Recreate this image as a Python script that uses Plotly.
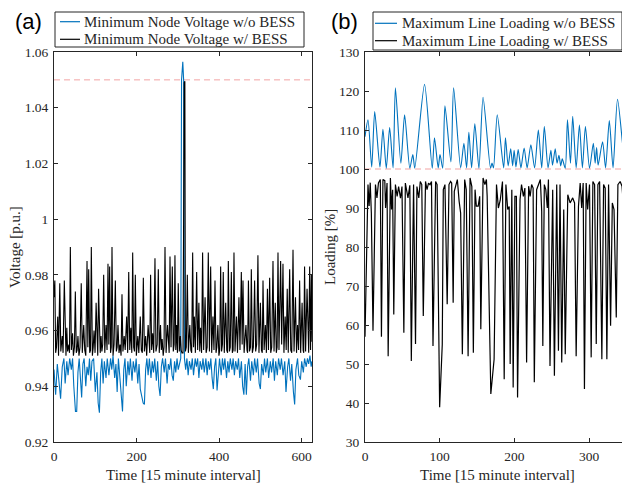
import plotly.graph_objects as go

# ---------------- Panel (a): minimum node voltage ----------------
time_a_blue = [0, 4, 8, 12, 16, 20, 24, 27, 31, 34, 38, 42, 45, 48, 52, 55, 58, 61, 64, 67,
               70, 73, 77, 80, 83, 86, 89, 92, 96, 100, 104, 107, 110, 113, 116, 119, 122, 126, 129, 133,
               137, 140, 143, 147, 150, 153, 156, 160, 163, 166, 169, 172, 175, 179, 182, 185, 189, 192, 196, 199,
               203, 206, 209, 213, 216, 219, 222, 225, 228, 231, 235, 238, 241, 244, 248, 251, 254, 257, 260, 263,
               267, 270, 274, 277, 280, 283, 286, 289, 292, 295, 298, 301, 304, 307, 309, 312, 314, 316, 319, 322,
               325, 328, 332, 335, 338, 342, 345, 348, 351, 354, 358, 361, 364, 368, 371, 374, 377, 380, 383, 386,
               389, 392, 395, 398, 401, 405, 408, 411, 414, 418, 421, 424, 427, 431, 434, 437, 440, 444, 447, 450,
               454, 457, 460, 463, 466, 469, 472, 476, 479, 483, 486, 490, 493, 497, 500, 503, 507, 510, 513, 517,
               520, 524, 527, 531, 534, 537, 541, 544, 548, 551, 555, 559, 562, 566, 569, 573, 576, 580, 583, 586,
               590, 593, 597, 600, 604, 607, 611, 614, 617, 620, 623, 625]
volt_a_blue = [0.946, 0.937, 0.948, 0.942, 0.9355, 0.947, 0.950, 0.941, 0.949, 0.944, 0.950, 0.946, 0.950, 0.940, 0.931, 0.931, 0.945, 0.950, 0.940, 0.936,
               0.948, 0.950, 0.940, 0.947, 0.944, 0.950, 0.942, 0.949, 0.950, 0.938, 0.945, 0.934, 0.9305, 0.945, 0.950, 0.941, 0.949, 0.943, 0.950, 0.944,
               0.950, 0.946, 0.951, 0.943, 0.948, 0.938, 0.950, 0.941, 0.934, 0.931, 0.946, 0.950, 0.940, 0.949, 0.944, 0.950, 0.942, 0.949, 0.945, 0.950,
               0.941, 0.948, 0.939, 0.936, 0.934, 0.9335, 0.946, 0.950, 0.944, 0.950, 0.943, 0.949, 0.945, 0.950, 0.942, 0.949, 0.940, 0.9365, 0.947, 0.950,
               0.945, 0.950, 0.941, 0.948, 0.946, 0.950, 0.944, 0.942, 0.949, 0.945, 0.950, 0.946, 0.948, 0.950, 1.050, 1.0565, 1.050, 0.950, 0.946, 0.950,
               0.944, 0.949, 0.946, 0.950, 0.944, 0.950, 0.947, 0.950, 0.943, 0.949, 0.946, 0.950, 0.945, 0.950, 0.944, 0.949, 0.946, 0.950, 0.943, 0.939,
               0.947, 0.950, 0.9385, 0.946, 0.950, 0.944, 0.950, 0.946, 0.950, 0.943, 0.949, 0.945, 0.950, 0.946, 0.950, 0.944, 0.949, 0.946, 0.950, 0.943,
               0.949, 0.940, 0.937, 0.948, 0.937, 0.947, 0.950, 0.942, 0.949, 0.944, 0.950, 0.945, 0.950, 0.941, 0.939, 0.948, 0.944, 0.950, 0.945, 0.950,
               0.943, 0.949, 0.945, 0.950, 0.942, 0.949, 0.944, 0.950, 0.946, 0.950, 0.944, 0.949, 0.938, 0.947, 0.950, 0.942, 0.948, 0.938, 0.9335, 0.946,
               0.950, 0.944, 0.9424, 0.949, 0.945, 0.950, 0.947, 0.950, 0.948, 0.951, 0.947, 0.949]

time_a_black = [0, 2, 4, 6, 9, 11, 14, 16.5, 18, 20, 22, 25, 27.5, 29, 31, 33, 36, 37.5, 39.6, 42,
                45, 47, 49.5, 51.7, 54, 56, 58, 60.5, 63, 66, 68.5, 72, 74.5, 77, 80, 82, 84, 86.5, 88.5, 90.4,
                93, 95, 97, 99.5, 102, 104.5, 106, 108, 110.5, 112, 114, 116, 118, 120.3, 123, 126, 128.5, 130.8, 132.8, 134.8,
                137, 138.7, 140.5, 143, 145.5, 148.6, 151, 153, 155, 157.5, 160, 162.5, 164.7, 167, 170, 172.5, 176, 178.5, 181, 183.5,
                186, 188.5, 190.6, 193, 195, 197, 199.5, 201, 203, 205.5, 209, 211.5, 214, 216.4, 219, 222, 224.5, 228, 230.5, 232,
                234, 236.5, 239, 241.5, 244.6, 247, 250, 252.7, 255, 258, 260, 262, 264.5, 266.5, 268.9, 271.5, 275, 277.5, 279, 281,
                283.5, 286.6, 289, 291, 293, 295, 297, 299, 301, 303.5, 306, 308, 310, 312.5, 314, 315.5, 317, 318.3, 320.5, 323,
                325.5, 329, 331.5, 333.5, 335.9, 338, 340, 342.5, 345.6, 348, 351, 353, 355, 357.5, 360, 362.5, 366, 368.5, 371, 373.8,
                376.5, 379.5, 382, 385, 387.5, 390, 392.5, 394.5, 397, 399.5, 401.5, 403.7, 406, 408, 410, 412.5, 416, 418.5, 420.5, 422.3,
                425, 427, 429.6, 432, 434, 436, 438.5, 442, 444.5, 448, 450.5, 453.8, 455.8, 457.8, 460.5, 465, 467.5, 469, 471, 473.5,
                476, 478, 480.5, 483, 486, 488.5, 491, 494, 496.5, 500, 502.5, 504.5, 506.3, 509, 512, 514.5, 517, 519.5, 522.4, 525,
                527.5, 530.5, 533, 536, 538.5, 540.5, 542.6, 545, 549, 551.5, 554.7, 557, 560, 562.5, 565, 567.5, 570.9, 573.5, 576, 579,
                581.5, 585, 587.5, 590, 592.5, 595, 597.5, 601, 603.5, 605, 607, 609.5, 613, 615.5, 617, 619.3, 621.5, 623.5, 625]
volt_a_black = [0.972, 0.978, 0.952, 0.954, 0.965, 0.951, 0.977, 0.9525, 0.955, 0.958, 0.952, 0.978, 0.953, 0.951, 0.961, 0.9525, 0.955, 0.952, 0.990, 0.953,
                0.959, 0.951, 0.954, 0.974, 0.952, 0.953, 0.958, 0.951, 0.954, 0.977, 0.952, 0.962, 0.953, 0.951, 0.985, 0.954, 0.982, 0.952, 0.953, 0.990,
                0.951, 0.954, 0.960, 0.952, 0.970, 0.9525, 0.951, 0.975, 0.953, 0.952, 0.958, 0.9525, 0.955, 0.980, 0.952, 0.962, 0.953, 0.984, 0.955, 0.983,
                0.952, 0.954, 0.990, 0.951, 0.955, 0.978, 0.9525, 0.954, 0.962, 0.952, 0.955, 0.951, 0.973, 0.9525, 0.958, 0.953, 0.965, 0.952, 0.981, 0.953,
                0.961, 0.952, 0.988, 0.954, 0.9525, 0.980, 0.951, 0.954, 0.958, 0.952, 0.965, 0.953, 0.952, 0.979, 0.9525, 0.958, 0.951, 0.962, 0.953, 0.952,
                0.980, 0.953, 0.959, 0.952, 0.986, 0.9525, 0.955, 0.982, 0.952, 0.962, 0.953, 0.957, 0.951, 0.954, 0.990, 0.952, 0.962, 0.953, 0.952, 0.9866,
                0.954, 0.983, 0.9525, 0.955, 0.987, 0.953, 0.962, 0.952, 0.977, 0.9525, 0.958, 0.953, 0.952, 0.952, 1.047, 1.049, 1.0495, 0.9525, 0.954, 0.980,
                0.952, 0.962, 0.953, 0.952, 0.988, 0.954, 0.965, 0.952, 0.981, 0.953, 0.970, 0.9525, 0.961, 0.952, 0.988, 0.953, 0.972, 0.952, 0.954, 0.988,
                0.9525, 0.983, 0.952, 0.965, 0.953, 0.978, 0.952, 0.954, 0.962, 0.951, 0.953, 0.983, 0.9525, 0.955, 0.981, 0.952, 0.970, 0.953, 0.952, 0.985,
                0.9525, 0.954, 0.981, 0.952, 0.953, 0.988, 0.9525, 0.965, 0.952, 0.972, 0.953, 0.981, 0.955, 0.978, 0.952, 0.962, 0.953, 0.952, 0.978, 0.9525,
                0.954, 0.982, 0.952, 0.954, 0.978, 0.9525, 0.955, 0.987, 0.952, 0.970, 0.953, 0.952, 0.978, 0.953, 0.962, 0.952, 0.975, 0.953, 0.979, 0.952,
                0.954, 0.985, 0.9525, 0.970, 0.952, 0.954, 0.988, 0.953, 0.985, 0.955, 0.984, 0.952, 0.965, 0.953, 0.975, 0.952, 0.982, 0.953, 0.952, 0.989,
                0.9525, 0.972, 0.952, 0.962, 0.953, 0.978, 0.952, 0.970, 0.953, 0.952, 0.983, 0.9525, 0.975, 0.953, 0.952, 0.983, 0.953, 0.980, 0.956]

# ---------------- Panel (b): maximum line loading ----------------
time_b_blue = [0, 4, 9, 13, 20, 24, 28.5, 33, 37.6, 40.7, 48, 53, 60, 64, 66.6, 79.7, 90, 93, 98, 100.4,
               104, 107, 115, 118.6, 128, 132.4, 136, 139, 142.7, 147, 152.5, 158, 168, 170, 172, 177, 185.6, 188, 191.6, 195,
               197.6, 199.6, 202, 205, 208.7, 213, 217, 222, 227, 232, 236.5, 240, 245, 248.8, 251, 254.6, 257, 259.6, 262, 264,
               268, 271, 275, 278, 282.6, 287, 291, 295, 300.5, 305.6, 308, 310, 312, 318, 322, 327, 332, 338, 348.6, 351.7, 352]
load_b_blue = [108.3, 112.6, 100.5, 114.7, 100.5, 110.2, 100.2, 110.6, 100.3, 120.8, 101.5, 113.9, 100.2, 103.7, 100.2, 121.7, 100.2, 108.0, 100.3, 103.7,
               100.2, 116.2, 101.8, 120.8, 100.3, 106.6, 100.3, 109.4, 100.3, 111.6, 100.2, 118.4, 100.2, 101.5, 100.3, 113.9, 100.3, 108.0, 100.8, 105.2,
               100.8, 104.8, 100.5, 105.0, 100.3, 105.4, 100.3, 106.2, 100.3, 110.0, 100.3, 110.9, 100.3, 104.8, 101.0, 105.2, 101.5, 103.5, 100.8, 102.6,
               100.2, 112.6, 101.5, 113.5, 100.3, 111.3, 100.3, 110.9, 100.2, 106.6, 101.5, 105.5, 101.0, 107.0, 100.3, 112.4, 100.3, 117.9, 100.2, 107.0, 106.0]

time_b_black = [0, 4, 5.5, 7, 8.5, 10.7, 14, 16, 18, 20.5, 22, 24, 26.5, 27.5, 29.5, 31, 34, 35.5, 37, 38.5,
                40.7, 43, 45, 47.5, 49.5, 52, 54, 57.5, 60, 62, 65, 67.6, 69.5, 72, 74, 76, 78, 81, 83, 85,
                87, 89, 91, 94.5, 96.5, 99.9, 103.4, 104.8, 107, 110, 112.4, 114.5, 116, 118, 119.5, 121.5, 123.6, 126, 128, 130.3,
                133.4, 135.5, 138, 140.6, 143, 145, 147.3, 149, 151.5, 153.5, 155, 158, 160.5, 162.5, 163.5, 168.4, 172.8, 176, 178.5, 181,
                184, 186.3, 188.6, 191, 193, 194.3, 196.5, 198.3, 200.6, 202.6, 204.2, 207.5, 209.5, 212, 214, 216.3, 219, 221, 223, 225,
                226.6, 229.7, 232.5, 234.7, 236.5, 238, 240, 242, 244, 245.5, 247.6, 251.2, 253.5, 256.6, 258.9, 261, 263.3, 266, 268, 271.4,
                274.5, 278, 280.5, 282.6, 285.7, 288, 290, 292, 293.7, 296, 298, 300.5, 302.7, 305, 307.3, 309.5, 311.7, 314, 317, 319.3,
                321.5, 323.7, 326, 328.7, 331, 333.3, 336.3, 338.5, 341.5, 344, 346.5, 349.7, 351.9, 352]
load_b_black = [57.0, 96.0, 90.5, 96.5, 88.7, 58.5, 96.0, 92.6, 96.4, 97.3, 57.0, 97.3, 97.0, 90.0, 96.4, 52.0, 97.7, 89.6, 94.7, 62.7,
                96.0, 93.0, 95.5, 92.5, 95.5, 58.0, 96.4, 92.6, 95.8, 50.8, 96.0, 55.1, 95.5, 92.6, 96.8, 96.0, 62.3, 96.8, 94.7, 96.4,
                96.0, 96.8, 54.6, 96.8, 96.0, 38.9, 55.0, 94.7, 96.0, 65.3, 96.0, 96.8, 96.4, 65.7, 94.3, 96.0, 97.3, 91.7, 88.7, 52.5,
                97.3, 94.7, 52.0, 97.7, 95.5, 52.9, 94.7, 90.5, 90.5, 93.0, 58.9, 97.7, 96.0, 97.3, 93.0, 42.3, 51.2, 96.0, 90.0, 92.0,
                96.8, 46.1, 96.0, 89.6, 90.4, 50.0, 94.7, 44.0, 93.0, 93.0, 41.4, 92.2, 96.0, 93.0, 95.1, 50.4, 95.6, 93.0, 96.0, 95.1,
                45.3, 94.7, 96.4, 97.3, 89.2, 54.6, 96.0, 94.7, 90.0, 97.3, 49.5, 94.7, 47.0, 96.0, 53.4, 96.0, 50.4, 89.6, 52.5, 93.4,
                91.3, 92.6, 91.3, 52.0, 90.4, 96.4, 90.0, 96.4, 43.6, 96.4, 89.6, 96.0, 51.7, 96.8, 96.0, 55.1, 96.0, 96.8, 51.2, 96.0,
                95.1, 51.2, 96.0, 59.8, 91.3, 89.6, 61.9, 96.0, 96.8, 95.6, 89.2, 58.0, 96.0, 95.5]

legend_a = ["Minimum Node Voltage w/o BESS", "Minimum Node Voltage w/ BESS"]
legend_b = ["Maximum Line Loading w/o BESS", "Maximum Line Loading w/ BESS"]
panel_labels = ["(a)", "(b)"]
x_title = "Time [15 minute interval]"
y_titles = ["Voltage [p.u.]", "Loading [%]"]
volt_ticks = [0.92, 0.94, 0.96, 0.98, 1.0, 1.02, 1.04, 1.06]
volt_ticktext = ["0.92", "0.94", "0.96", "0.98", "1", "1.02", "1.04", "1.06"]
load_ticks = [30, 40, 50, 60, 70, 80, 90, 100, 110, 120, 130]
time_ticks_a = [0, 200, 400, 600]
time_ticks_b = [0, 100, 200, 300]
volt_limit = 1.05
load_limit = 100

BLUE = "#0072BD"
BLACK = "#000000"
RED = "#F2A3A3"
AX = "#262626"
SERIF = "Liberation Serif, Times New Roman, serif"

fig = go.Figure()
fig.add_trace(go.Scatter(x=time_a_blue, y=volt_a_blue, mode="lines", line=dict(color=BLUE, width=1.1),
                         name=legend_a[0], xaxis="x", yaxis="y", showlegend=False))
fig.add_trace(go.Scatter(x=time_a_black, y=volt_a_black, mode="lines", line=dict(color=BLACK, width=1.1),
                         name=legend_a[1], xaxis="x", yaxis="y", showlegend=False))
fig.add_trace(go.Scatter(x=time_b_blue, y=load_b_blue, mode="lines", line=dict(color=BLUE, width=1.1, shape="spline", smoothing=0.7),
                         name=legend_b[0], xaxis="x2", yaxis="y2", showlegend=False))
fig.add_trace(go.Scatter(x=time_b_black, y=load_b_black, mode="lines", line=dict(color=BLACK, width=1.2),
                         name=legend_b[1], xaxis="x2", yaxis="y2", showlegend=False))

axis_common = dict(showgrid=False, zeroline=False, showline=True, linecolor=AX, linewidth=1,
                   mirror="ticks", ticks="inside", ticklen=4, tickcolor=AX, tickwidth=1, automargin=False,
                   ticklabelstandoff=2, tickfont=dict(family=SERIF, size=13.5, color=AX))

# The page body has an 8px margin, so the figure is drawn 8px right and down.
OFF = 8
W, H = 622, 479
L, R, T, B = 46, 2, 44, 45
pw, ph = W - L - R, H - T - B


def px2x(px):
    """screen x (reference pixels) -> paper x"""
    return (px - OFF - L) / pw


def py2y(py):
    """screen y (reference pixels) -> paper y"""
    return (H - B - (py - OFF)) / ph


fig.update_layout(
    template="none",
    width=W, height=H,
    margin=dict(l=L, r=R, t=T, b=B, autoexpand=False),
    paper_bgcolor="white", plot_bgcolor="white",
    xaxis=dict(domain=[0, px2x(312)], range=[0, 625], tickvals=time_ticks_a, anchor="y", **axis_common),
    yaxis=dict(domain=[0, 1], range=[0.92, 1.06], tickvals=volt_ticks, ticktext=volt_ticktext, anchor="x", **axis_common),
    xaxis2=dict(domain=[px2x(365), 1], range=[0, 352], tickvals=time_ticks_b, anchor="y2", **axis_common),
    yaxis2=dict(domain=[0, 1], range=[30, 130], tickvals=load_ticks, anchor="x2", **axis_common),
)

shapes = []
# limit lines
shapes.append(dict(type="line", xref="x domain", yref="y", x0=0, x1=1, y0=volt_limit, y1=volt_limit,
                   line=dict(color=RED, width=1, dash="6px,4px"), layer="below"))
shapes.append(dict(type="line", xref="x2 domain", yref="y2", x0=0, x1=1, y0=load_limit, y1=load_limit,
                   line=dict(color=RED, width=1, dash="6px,4px"), layer="below"))

annotations = []
title_font = dict(family=SERIF, size=15, color=AX)
# axis titles
for cx in (183, 497):
    annotations.append(dict(xref="paper", yref="paper", x=px2x(cx), y=py2y(475), text=x_title, showarrow=False,
                            xanchor="center", yanchor="middle", font=title_font))
for cx, txt in zip((15, 330), y_titles):
    annotations.append(dict(xref="paper", yref="paper", x=px2x(cx), y=py2y(247), text=txt, showarrow=False,
                            textangle=-90, xanchor="center", yanchor="middle", font=title_font))

# legends drawn as boxes with line samples and labels
legend_boxes = [
    dict(box=(55, 12, 304, 47), line=(60, 80), rows=(21.7, 39.3), text_x=82, labels=legend_a),
    dict(box=(373, 12, 622, 50), line=(375, 397), rows=(23.3, 40.7), text_x=400, labels=legend_b),
]
for lg in legend_boxes:
    x0, y0, x1, y1 = lg["box"]
    shapes.append(dict(type="rect", xref="paper", yref="paper", x0=px2x(x0), x1=px2x(x1), y0=py2y(y1), y1=py2y(y0),
                       line=dict(color=AX, width=1), fillcolor="white", layer="above"))
    for row, color, label in zip(lg["rows"], [BLUE, BLACK], lg["labels"]):
        shapes.append(dict(type="line", xref="paper", yref="paper", x0=px2x(lg["line"][0]), x1=px2x(lg["line"][1]),
                           y0=py2y(row), y1=py2y(row), line=dict(color=color, width=1.2), layer="above"))
        annotations.append(dict(xref="paper", yref="paper", x=px2x(lg["text_x"]), y=py2y(row), text=label,
                                showarrow=False, xanchor="left", yanchor="middle", font=title_font))

for label, cx in zip(panel_labels, [28, 344]):
    annotations.append(dict(xref="paper", yref="paper", x=px2x(cx), y=py2y(21), text=label, showarrow=False,
                            xanchor="center", yanchor="middle",
                            font=dict(family="Liberation Sans, Arial, sans-serif", size=22, color="black")))

fig.update_layout(shapes=shapes, annotations=annotations)
fig.write_html("out.html")
